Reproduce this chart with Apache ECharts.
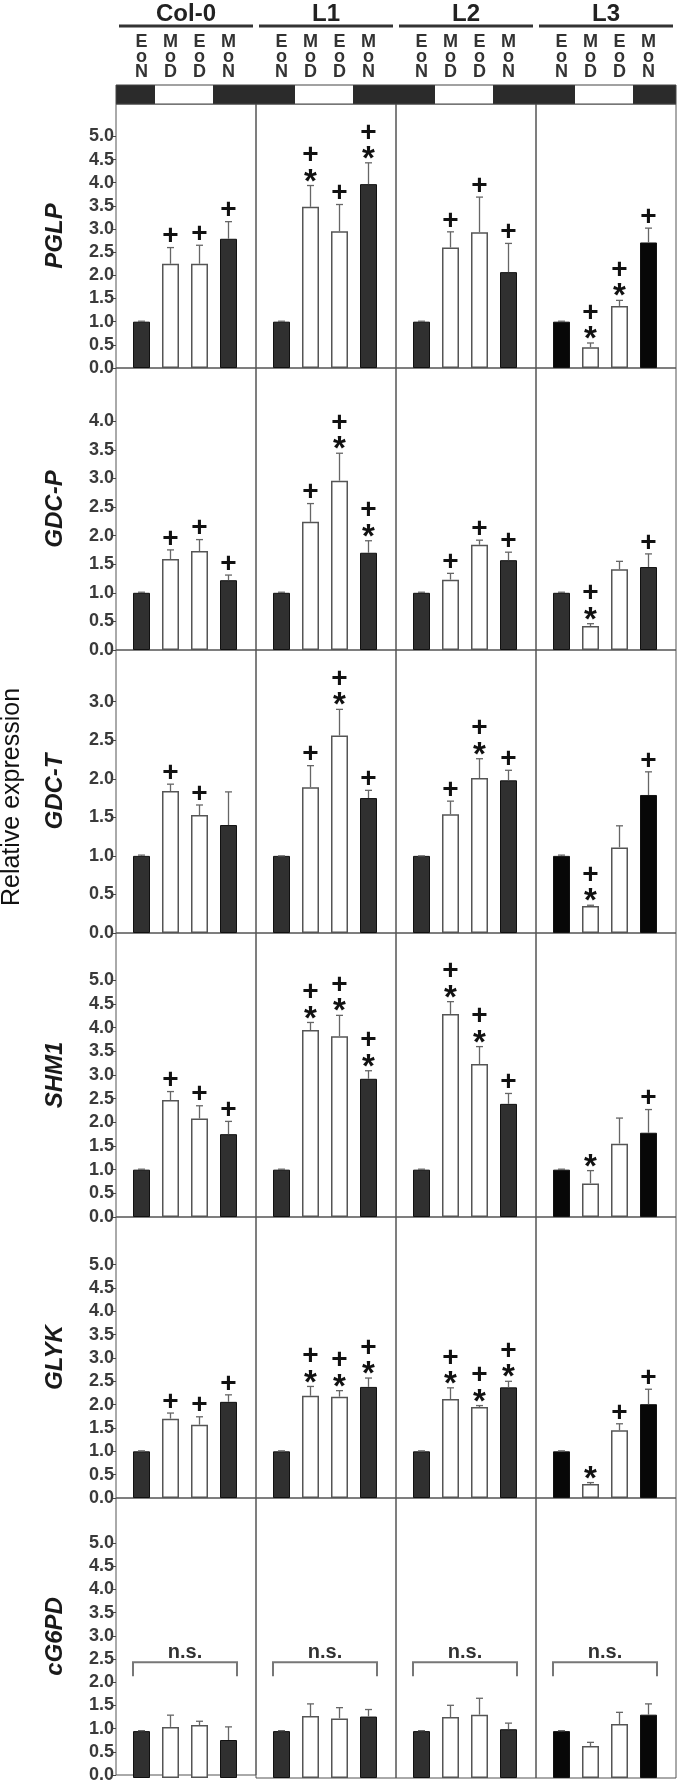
<!DOCTYPE html>
<html><head><meta charset="utf-8">
<script src="https://cdn.jsdelivr.net/npm/echarts@6/dist/echarts.min.js"></script>
<style>html,body{margin:0;padding:0;background:#fff}#c{width:679px;height:1784px}</style>
</head><body><div id="c"></div>
<script>
// ---------------- DATA ----------------
const genes = ['PGLP', 'GDC-P', 'GDC-T', 'SHM1', 'GLYK', 'cG6PD'];
const lines = ['Col-0', 'L1', 'L2', 'L3'];
const timepoints = ['EoN', 'MoD', 'EoD', 'MoN'];

// values[line][timepoint]
const pglpValues = [[1.0, 2.25, 2.25, 2.79], [1.0, 3.48, 2.95, 3.97], [1.0, 2.60, 2.93, 2.07], [1.0, 0.45, 1.34, 2.71]];
const pglpErrors = [[0.01, 0.35, 0.40, 0.37], [0.01, 0.46, 0.58, 0.46], [0.01, 0.34, 0.76, 0.62], [0.01, 0.09, 0.12, 0.31]];
const pglpMarks  = [['', '+', '+', '+'], ['', '+*', '+', '+*'], ['', '+', '+', '+'], ['', '+*', '+*', '+']];

const gdcpValues = [[1.0, 1.59, 1.73, 1.22], [1.0, 2.24, 2.96, 1.70], [1.0, 1.23, 1.84, 1.57], [1.0, 0.42, 1.41, 1.45]];
const gdcpErrors = [[0.01, 0.16, 0.20, 0.09], [0.01, 0.32, 0.48, 0.21], [0.01, 0.11, 0.08, 0.14], [0.01, 0.04, 0.14, 0.23]];
const gdcpMarks  = [['', '+', '+', '+'], ['', '+', '+*', '+*'], ['', '+', '+', '+'], ['', '+*', '', '+']];

const gdctValues = [[1.0, 1.84, 1.53, 1.40], [1.0, 1.89, 2.56, 1.75], [1.0, 1.54, 2.01, 1.98], [1.0, 0.35, 1.11, 1.79]];
const gdctErrors = [[0.01, 0.09, 0.13, 0.43], [0.0, 0.28, 0.34, 0.10], [0.0, 0.17, 0.25, 0.13], [0.01, 0.01, 0.28, 0.30]];
const gdctMarks  = [['', '+', '+', ''], ['', '+', '+*', '+'], ['', '+', '+*', '+'], ['', '+*', '', '+']];

const shm1Values = [[1.0, 2.47, 2.08, 1.75], [1.0, 3.95, 3.82, 2.92], [1.0, 4.29, 3.23, 2.39], [1.0, 0.71, 1.55, 1.78]];
const shm1Errors = [[0.01, 0.18, 0.27, 0.27], [0.01, 0.16, 0.44, 0.17], [0.01, 0.26, 0.37, 0.22], [0.01, 0.27, 0.54, 0.49]];
const shm1Marks  = [['', '+', '+', '+'], ['', '+*', '+*', '+*'], ['', '+*', '+*', '+'], ['', '*', '', '+']];

const glykValues = [[1.0, 1.70, 1.57, 2.06], [1.0, 2.19, 2.17, 2.38], [1.0, 2.12, 1.95, 2.37], [1.0, 0.30, 1.45, 2.01]];
const glykErrors = [[0.01, 0.12, 0.17, 0.15], [0.01, 0.20, 0.13, 0.19], [0.01, 0.24, 0.03, 0.13], [0.01, 0.03, 0.14, 0.32]];
const glykMarks  = [['', '+', '+', '+'], ['', '+*', '+*', '+*'], ['', '+*', '+*', '+*'], ['', '*', '+', '+']];

const g6pdValues = [[1.0, 1.09, 1.13, 0.81], [1.0, 1.32, 1.27, 1.31], [1.0, 1.30, 1.35, 1.04], [1.0, 0.68, 1.15, 1.35]];
const g6pdErrors = [[0.01, 0.25, 0.08, 0.28], [0.01, 0.26, 0.23, 0.15], [0.01, 0.25, 0.35, 0.13], [0.01, 0.08, 0.25, 0.23]];
const g6pdMarks  = [['', '', '', ''], ['', '', '', ''], ['', '', '', ''], ['', '', '', '']];

const nsBracket = [2.47, 2.17];   // bracket top, bracket arm end
const nsLabelValue = 2.68;
const nsLabel = 'n.s.';

const tickLabels = [
  ['0.0','0.5','1.0','1.5','2.0','2.5','3.0','3.5','4.0','4.5','5.0'],
  ['0.0','0.5','1.0','1.5','2.0','2.5','3.0','3.5','4.0'],
  ['0.0','0.5','1.0','1.5','2.0','2.5','3.0'],
  ['0.0','0.5','1.0','1.5','2.0','2.5','3.0','3.5','4.0','4.5','5.0'],
  ['0.0','0.5','1.0','1.5','2.0','2.5','3.0','3.5','4.0','4.5','5.0'],
  ['0.0','0.5','1.0','1.5','2.0','2.5','3.0','3.5','4.0','4.5','5.0']
];
const yAxisTitle = 'Relative expression';

const allValues = [pglpValues, gdcpValues, gdctValues, shm1Values, glykValues, g6pdValues];
const allErrors = [pglpErrors, gdcpErrors, gdctErrors, shm1Errors, glykErrors, g6pdErrors];
const allMarks  = [pglpMarks, gdcpMarks, gdctMarks, shm1Marks, glykMarks, g6pdMarks];

// ---------------- LAYOUT / STYLE ----------------
const FONT = '"Liberation Sans", Arial, sans-serif';
const panelLefts = [116, 256, 396, 536];
const panelW = 140;
const innerOff = 11, innerW = 116;
const rowTops = [104, 368, 650, 933, 1217, 1498];
const rowBottoms = [368, 650, 933, 1217, 1498, 1778];
const yMax = [5.7, 4.93, 3.67, 6.0, 6.02, 5.97];
const l3Black = [true, false, true, true, true, true];
const barW = 17;

const grids = [], xAxes = [], yAxes = [], series = [];

function darkStyle(black) { return { color: black ? '#080808' : '#303030', borderColor: '#111', borderWidth: 1 }; }
const whiteStyle = { color: '#ffffff', borderColor: '#555', borderWidth: 1.5 };

function makeRender(marks) {
  return function (params, api) {
    const i = api.value(0), v = api.value(1), e = api.value(2);
    const base = api.coord([i, v]);
    const top = api.coord([i, v + e]);
    const x = base[0];
    const children = [
      { type: 'line', shape: { x1: x, y1: base[1], x2: x, y2: top[1] }, style: { stroke: '#666', lineWidth: 1.3 } },
      { type: 'line', shape: { x1: x - 3.5, y1: top[1], x2: x + 3.5, y2: top[1] }, style: { stroke: '#666', lineWidth: 1.3 } }
    ];
    const m = marks[params.dataIndex] || '';
    let y = top[1] - 11;
    if (m.indexOf('*') >= 0) {
      children.push({ type: 'text', style: { text: '*', x: x, y: y + 8, align: 'center', verticalAlign: 'middle', font: 'bold 33px ' + FONT, fill: '#111' } });
      y -= 19;
    }
    if (m.indexOf('+') >= 0) {
      children.push({ type: 'text', style: { text: '+', x: x, y: y, align: 'center', verticalAlign: 'middle', font: 'bold 28px ' + FONT, fill: '#111' } });
    }
    return { type: 'group', children: children };
  };
}

for (let r = 0; r < genes.length; r++) {
  const h = rowBottoms[r] - rowTops[r];
  const ticks = tickLabels[r].map(Number);
  for (let c = 0; c < lines.length; c++) {
    const go = grids.length;
    grids.push({ left: panelLefts[c], top: rowTops[r], width: panelW, height: h, show: true, borderColor: '#555', borderWidth: 1, backgroundColor: 'transparent' });
    xAxes.push({ gridIndex: go, type: 'category', data: timepoints, show: false });
    yAxes.push({
      gridIndex: go, type: 'value', min: 0, max: yMax[r], show: c === 0,
      axisLine: { show: false }, splitLine: { show: false },
      axisTick: { show: c === 0, length: 5, lineStyle: { color: '#444', width: 1 }, customValues: ticks },
      axisLabel: { show: c === 0, customValues: ticks, margin: 2, formatter: v => v.toFixed(1), color: '#3a3a3a', fontWeight: 'bold', fontSize: 18, fontFamily: FONT },
      name: c === 0 ? genes[r] : '', nameLocation: 'middle', nameGap: 49, nameRotate: 90,
      nameTextStyle: { color: '#1a1a1a', fontSize: 24, fontWeight: 'bold', fontStyle: 'italic', fontFamily: FONT }
    });
    const gi = grids.length;
    grids.push({ left: panelLefts[c] + innerOff, top: rowTops[r], width: innerW, height: h, show: false });
    xAxes.push({
      gridIndex: gi, type: 'category', data: timepoints, position: r === 0 ? 'top' : 'bottom',
      axisLine: { show: false }, axisTick: { show: false }, splitLine: { show: false },
      axisLabel: { show: r === 0, interval: 0, margin: 24, formatter: t => t.split('').join('\n'), lineHeight: 15, fontSize: 18, fontWeight: 'bold', color: '#333', fontFamily: FONT }
    });
    yAxes.push({ gridIndex: gi, type: 'value', min: 0, max: yMax[r], show: false, splitLine: { show: false } });

    const vals = allValues[r][c], errs = allErrors[r][c], marks = allMarks[r][c];
    series.push({
      type: 'bar', xAxisIndex: gi, yAxisIndex: gi, barWidth: barW, silent: true, animation: false,
      data: vals.map((v, i) => ({ value: v, itemStyle: (i === 0 || i === 3) ? darkStyle(c === 3 && l3Black[r]) : whiteStyle }))
    });
    series.push({
      type: 'custom', xAxisIndex: gi, yAxisIndex: gi, silent: true, animation: false, clip: false, z: 5,
      data: vals.map((v, i) => [i, v, errs[i]]),
      renderItem: makeRender(marks)
    });
    if (r === genes.length - 1) {
      series.push({
        type: 'custom', xAxisIndex: gi, yAxisIndex: gi, silent: true, animation: false, clip: false, z: 5,
        data: [[0, nsBracket[0], nsBracket[1], nsLabelValue]],
        renderItem: function (params, api) {
          const p0 = api.coord([0, api.value(1)]);
          const p3 = api.coord([3, api.value(1)]);
          const arm = api.coord([0, api.value(2)])[1];
          const lab = api.coord([0, api.value(3)])[1];
          const l = p0[0] - barW / 2, rr = p3[0] + barW / 2;
          return { type: 'group', children: [
            { type: 'polyline', shape: { points: [[l, arm], [l, p0[1]], [rr, p0[1]], [rr, arm]] }, style: { stroke: '#777', lineWidth: 2, fill: null } },
            { type: 'text', style: { text: nsLabel, x: (l + rr) / 2, y: lab, align: 'center', verticalAlign: 'middle', font: 'bold 20px ' + FONT, fill: '#333' } }
          ] };
        }
      });
    }
  }
}

// header graphics
const graphics = [];
for (let c = 0; c < lines.length; c++) {
  const L = panelLefts[c];
  graphics.push({ type: 'text', x: L + panelW / 2, y: 14, style: { text: lines[c], align: 'center', verticalAlign: 'middle', font: 'bold 24px ' + FONT, fill: '#222' } });
  graphics.push({ type: 'line', shape: { x1: L + 3, y1: 26, x2: L + panelW - 3, y2: 26 }, style: { stroke: '#333', lineWidth: 3 } });
  graphics.push({ type: 'rect', shape: { x: L, y: 85, width: 39, height: 19 }, style: { fill: '#2b2b2b' } });
  graphics.push({ type: 'rect', shape: { x: L + 39, y: 85, width: 58, height: 19 }, style: { fill: '#fff' } });
  graphics.push({ type: 'rect', shape: { x: L + 97, y: 85, width: panelW - 97, height: 19 }, style: { fill: '#2b2b2b' } });
}
graphics.push({ type: 'rect', shape: { x: panelLefts[0], y: 85, width: panelW * 4, height: 19 }, style: { fill: null, stroke: '#444', lineWidth: 1 } });
graphics.push({ type: 'text', x: 12, y: 797, rotation: Math.PI / 2, style: { text: yAxisTitle, align: 'center', verticalAlign: 'middle', font: '25px ' + FONT, fill: '#111' } });

const chart = echarts.init(document.getElementById('c'), null, { renderer: 'canvas' });
chart.setOption({
  animation: false,
  backgroundColor: '#fff',
  grid: grids, xAxis: xAxes, yAxis: yAxes, series: series,
  graphic: graphics
});
</script>
</body></html>
